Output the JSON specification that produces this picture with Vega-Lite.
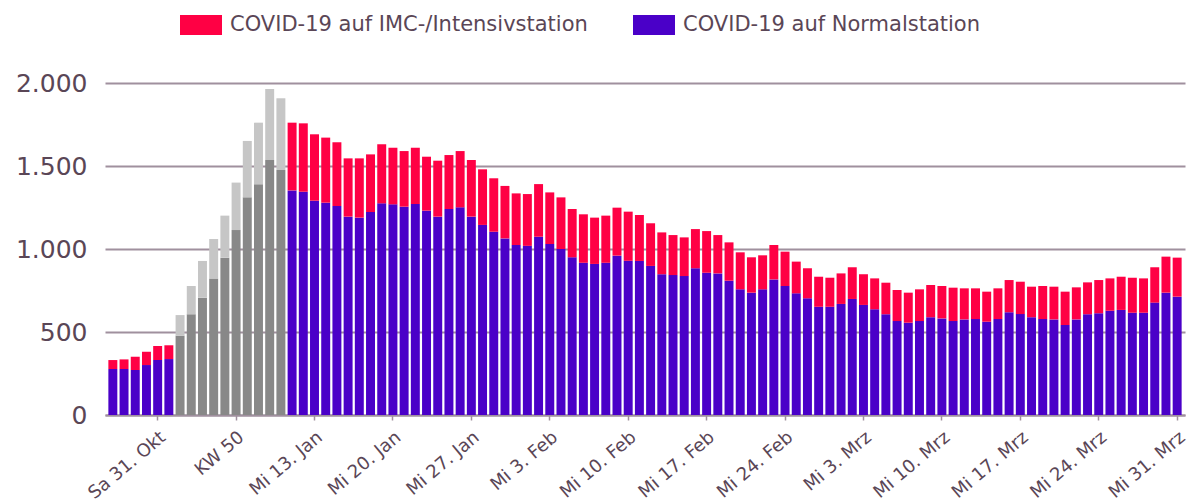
{
  "$schema": "https://vega.github.io/schema/vega-lite/v6.json",
  "width": 1080,
  "height": 332,
  "autosize": {"type": "none"},
  "padding": {"left": 105, "top": 83, "right": 3, "bottom": 89},
  "background": "white",
  "config": {"view": {"stroke": null}, "font": "DejaVu Sans"},
  "data": {"values": [
    {"t": "Di 27. Okt", "COVID-19 auf Normalstation": 277, "COVID-19 auf IMC-/Intensivstation": 54},
    {"t": "Mi 28. Okt", "COVID-19 auf Normalstation": 277, "COVID-19 auf IMC-/Intensivstation": 58},
    {"t": "Do 29. Okt", "COVID-19 auf Normalstation": 271, "COVID-19 auf IMC-/Intensivstation": 80},
    {"t": "Fr 30. Okt", "COVID-19 auf Normalstation": 301, "COVID-19 auf IMC-/Intensivstation": 80},
    {"t": "Sa 31. Okt", "COVID-19 auf Normalstation": 331, "COVID-19 auf IMC-/Intensivstation": 85},
    {"t": "So 1. Nov", "COVID-19 auf Normalstation": 337, "COVID-19 auf IMC-/Intensivstation": 83},
    {"t": "KW 45", "Normalstation (KW)": 478, "IMC-/Intensivstation (KW)": 124},
    {"t": "KW 46", "Normalstation (KW)": 607, "IMC-/Intensivstation (KW)": 170},
    {"t": "KW 47", "Normalstation (KW)": 707, "IMC-/Intensivstation (KW)": 221},
    {"t": "KW 48", "Normalstation (KW)": 823, "IMC-/Intensivstation (KW)": 237},
    {"t": "KW 49", "Normalstation (KW)": 948, "IMC-/Intensivstation (KW)": 253},
    {"t": "KW 50", "Normalstation (KW)": 1114, "IMC-/Intensivstation (KW)": 286},
    {"t": "KW 51", "Normalstation (KW)": 1311, "IMC-/Intensivstation (KW)": 340},
    {"t": "KW 52", "Normalstation (KW)": 1390, "IMC-/Intensivstation (KW)": 371},
    {"t": "KW 53", "Normalstation (KW)": 1536, "IMC-/Intensivstation (KW)": 428},
    {"t": "KW 1", "Normalstation (KW)": 1476, "IMC-/Intensivstation (KW)": 432},
    {"t": "Mo 11. Jan", "COVID-19 auf Normalstation": 1353, "COVID-19 auf IMC-/Intensivstation": 408},
    {"t": "Di 12. Jan", "COVID-19 auf Normalstation": 1345, "COVID-19 auf IMC-/Intensivstation": 412},
    {"t": "Mi 13. Jan", "COVID-19 auf Normalstation": 1291, "COVID-19 auf IMC-/Intensivstation": 400},
    {"t": "Do 14. Jan", "COVID-19 auf Normalstation": 1279, "COVID-19 auf IMC-/Intensivstation": 392},
    {"t": "Fr 15. Jan", "COVID-19 auf Normalstation": 1259, "COVID-19 auf IMC-/Intensivstation": 384},
    {"t": "Sa 16. Jan", "COVID-19 auf Normalstation": 1195, "COVID-19 auf IMC-/Intensivstation": 351},
    {"t": "So 17. Jan", "COVID-19 auf Normalstation": 1189, "COVID-19 auf IMC-/Intensivstation": 357},
    {"t": "Mo 18. Jan", "COVID-19 auf Normalstation": 1223, "COVID-19 auf IMC-/Intensivstation": 347},
    {"t": "Di 19. Jan", "COVID-19 auf Normalstation": 1275, "COVID-19 auf IMC-/Intensivstation": 356},
    {"t": "Mi 20. Jan", "COVID-19 auf Normalstation": 1269, "COVID-19 auf IMC-/Intensivstation": 341},
    {"t": "Do 21. Jan", "COVID-19 auf Normalstation": 1255, "COVID-19 auf IMC-/Intensivstation": 335},
    {"t": "Fr 22. Jan", "COVID-19 auf Normalstation": 1271, "COVID-19 auf IMC-/Intensivstation": 339},
    {"t": "Sa 23. Jan", "COVID-19 auf Normalstation": 1231, "COVID-19 auf IMC-/Intensivstation": 325},
    {"t": "So 24. Jan", "COVID-19 auf Normalstation": 1195, "COVID-19 auf IMC-/Intensivstation": 337},
    {"t": "Mo 25. Jan", "COVID-19 auf Normalstation": 1241, "COVID-19 auf IMC-/Intensivstation": 325},
    {"t": "Di 26. Jan", "COVID-19 auf Normalstation": 1251, "COVID-19 auf IMC-/Intensivstation": 339},
    {"t": "Mi 27. Jan", "COVID-19 auf Normalstation": 1195, "COVID-19 auf IMC-/Intensivstation": 341},
    {"t": "Do 28. Jan", "COVID-19 auf Normalstation": 1145, "COVID-19 auf IMC-/Intensivstation": 335},
    {"t": "Fr 29. Jan", "COVID-19 auf Normalstation": 1104, "COVID-19 auf IMC-/Intensivstation": 322},
    {"t": "Sa 30. Jan", "COVID-19 auf Normalstation": 1064, "COVID-19 auf IMC-/Intensivstation": 316},
    {"t": "So 31. Jan", "COVID-19 auf Normalstation": 1024, "COVID-19 auf IMC-/Intensivstation": 311},
    {"t": "Mo 1. Feb", "COVID-19 auf Normalstation": 1019, "COVID-19 auf IMC-/Intensivstation": 312},
    {"t": "Di 2. Feb", "COVID-19 auf Normalstation": 1074, "COVID-19 auf IMC-/Intensivstation": 317},
    {"t": "Mi 3. Feb", "COVID-19 auf Normalstation": 1030, "COVID-19 auf IMC-/Intensivstation": 311},
    {"t": "Do 4. Feb", "COVID-19 auf Normalstation": 1000, "COVID-19 auf IMC-/Intensivstation": 311},
    {"t": "Fr 5. Feb", "COVID-19 auf Normalstation": 950, "COVID-19 auf IMC-/Intensivstation": 291},
    {"t": "Sa 6. Feb", "COVID-19 auf Normalstation": 917, "COVID-19 auf IMC-/Intensivstation": 292},
    {"t": "So 7. Feb", "COVID-19 auf Normalstation": 910, "COVID-19 auf IMC-/Intensivstation": 279},
    {"t": "Mo 8. Feb", "COVID-19 auf Normalstation": 917, "COVID-19 auf IMC-/Intensivstation": 284},
    {"t": "Di 9. Feb", "COVID-19 auf Normalstation": 960, "COVID-19 auf IMC-/Intensivstation": 289},
    {"t": "Mi 10. Feb", "COVID-19 auf Normalstation": 929, "COVID-19 auf IMC-/Intensivstation": 296},
    {"t": "Do 11. Feb", "COVID-19 auf Normalstation": 928, "COVID-19 auf IMC-/Intensivstation": 277},
    {"t": "Fr 12. Feb", "COVID-19 auf Normalstation": 898, "COVID-19 auf IMC-/Intensivstation": 257},
    {"t": "Sa 13. Feb", "COVID-19 auf Normalstation": 848, "COVID-19 auf IMC-/Intensivstation": 252},
    {"t": "So 14. Feb", "COVID-19 auf Normalstation": 843, "COVID-19 auf IMC-/Intensivstation": 241},
    {"t": "Mo 15. Feb", "COVID-19 auf Normalstation": 837, "COVID-19 auf IMC-/Intensivstation": 233},
    {"t": "Di 16. Feb", "COVID-19 auf Normalstation": 884, "COVID-19 auf IMC-/Intensivstation": 236},
    {"t": "Mi 17. Feb", "COVID-19 auf Normalstation": 857, "COVID-19 auf IMC-/Intensivstation": 251},
    {"t": "Do 18. Feb", "COVID-19 auf Normalstation": 853, "COVID-19 auf IMC-/Intensivstation": 231},
    {"t": "Fr 19. Feb", "COVID-19 auf Normalstation": 809, "COVID-19 auf IMC-/Intensivstation": 231},
    {"t": "Sa 20. Feb", "COVID-19 auf Normalstation": 757, "COVID-19 auf IMC-/Intensivstation": 223},
    {"t": "So 21. Feb", "COVID-19 auf Normalstation": 737, "COVID-19 auf IMC-/Intensivstation": 213},
    {"t": "Mo 22. Feb", "COVID-19 auf Normalstation": 757, "COVID-19 auf IMC-/Intensivstation": 205},
    {"t": "Di 23. Feb", "COVID-19 auf Normalstation": 817, "COVID-19 auf IMC-/Intensivstation": 207},
    {"t": "Mi 24. Feb", "COVID-19 auf Normalstation": 777, "COVID-19 auf IMC-/Intensivstation": 207},
    {"t": "Do 25. Feb", "COVID-19 auf Normalstation": 733, "COVID-19 auf IMC-/Intensivstation": 191},
    {"t": "Fr 26. Feb", "COVID-19 auf Normalstation": 703, "COVID-19 auf IMC-/Intensivstation": 181},
    {"t": "Sa 27. Feb", "COVID-19 auf Normalstation": 652, "COVID-19 auf IMC-/Intensivstation": 181},
    {"t": "So 28. Feb", "COVID-19 auf Normalstation": 652, "COVID-19 auf IMC-/Intensivstation": 175},
    {"t": "Mo 1. Mrz", "COVID-19 auf Normalstation": 669, "COVID-19 auf IMC-/Intensivstation": 184},
    {"t": "Di 2. Mrz", "COVID-19 auf Normalstation": 699, "COVID-19 auf IMC-/Intensivstation": 191},
    {"t": "Mi 3. Mrz", "COVID-19 auf Normalstation": 663, "COVID-19 auf IMC-/Intensivstation": 185},
    {"t": "Do 4. Mrz", "COVID-19 auf Normalstation": 637, "COVID-19 auf IMC-/Intensivstation": 186},
    {"t": "Fr 5. Mrz", "COVID-19 auf Normalstation": 607, "COVID-19 auf IMC-/Intensivstation": 190},
    {"t": "Sa 6. Mrz", "COVID-19 auf Normalstation": 566, "COVID-19 auf IMC-/Intensivstation": 187},
    {"t": "So 7. Mrz", "COVID-19 auf Normalstation": 556, "COVID-19 auf IMC-/Intensivstation": 181},
    {"t": "Mo 8. Mrz", "COVID-19 auf Normalstation": 566, "COVID-19 auf IMC-/Intensivstation": 191},
    {"t": "Di 9. Mrz", "COVID-19 auf Normalstation": 589, "COVID-19 auf IMC-/Intensivstation": 194},
    {"t": "Mi 10. Mrz", "COVID-19 auf Normalstation": 582, "COVID-19 auf IMC-/Intensivstation": 195},
    {"t": "Do 11. Mrz", "COVID-19 auf Normalstation": 566, "COVID-19 auf IMC-/Intensivstation": 201},
    {"t": "Fr 12. Mrz", "COVID-19 auf Normalstation": 576, "COVID-19 auf IMC-/Intensivstation": 187},
    {"t": "Sa 13. Mrz", "COVID-19 auf Normalstation": 578, "COVID-19 auf IMC-/Intensivstation": 185},
    {"t": "So 14. Mrz", "COVID-19 auf Normalstation": 562, "COVID-19 auf IMC-/Intensivstation": 181},
    {"t": "Mo 15. Mrz", "COVID-19 auf Normalstation": 578, "COVID-19 auf IMC-/Intensivstation": 185},
    {"t": "Di 16. Mrz", "COVID-19 auf Normalstation": 619, "COVID-19 auf IMC-/Intensivstation": 194},
    {"t": "Mi 17. Mrz", "COVID-19 auf Normalstation": 608, "COVID-19 auf IMC-/Intensivstation": 195},
    {"t": "Do 18. Mrz", "COVID-19 auf Normalstation": 589, "COVID-19 auf IMC-/Intensivstation": 184},
    {"t": "Fr 19. Mrz", "COVID-19 auf Normalstation": 578, "COVID-19 auf IMC-/Intensivstation": 199},
    {"t": "Sa 20. Mrz", "COVID-19 auf Normalstation": 576, "COVID-19 auf IMC-/Intensivstation": 197},
    {"t": "So 21. Mrz", "COVID-19 auf Normalstation": 542, "COVID-19 auf IMC-/Intensivstation": 201},
    {"t": "Mo 22. Mrz", "COVID-19 auf Normalstation": 576, "COVID-19 auf IMC-/Intensivstation": 193},
    {"t": "Di 23. Mrz", "COVID-19 auf Normalstation": 607, "COVID-19 auf IMC-/Intensivstation": 192},
    {"t": "Mi 24. Mrz", "COVID-19 auf Normalstation": 613, "COVID-19 auf IMC-/Intensivstation": 200},
    {"t": "Do 25. Mrz", "COVID-19 auf Normalstation": 628, "COVID-19 auf IMC-/Intensivstation": 195},
    {"t": "Fr 26. Mrz", "COVID-19 auf Normalstation": 633, "COVID-19 auf IMC-/Intensivstation": 200},
    {"t": "Sa 27. Mrz", "COVID-19 auf Normalstation": 616, "COVID-19 auf IMC-/Intensivstation": 211},
    {"t": "So 28. Mrz", "COVID-19 auf Normalstation": 616, "COVID-19 auf IMC-/Intensivstation": 207},
    {"t": "Mo 29. Mrz", "COVID-19 auf Normalstation": 677, "COVID-19 auf IMC-/Intensivstation": 213},
    {"t": "Di 30. Mrz", "COVID-19 auf Normalstation": 737, "COVID-19 auf IMC-/Intensivstation": 217},
    {"t": "Mi 31. Mrz", "COVID-19 auf Normalstation": 713, "COVID-19 auf IMC-/Intensivstation": 235}
  ]},
  "transform": [
    {"fold": ["COVID-19 auf Normalstation", "COVID-19 auf IMC-/Intensivstation", "Normalstation (KW)", "IMC-/Intensivstation (KW)"], "as": ["s", "v"]},
    {"filter": "isValid(datum.v)"}
  ],
  "mark": {"type": "bar"},
  "encoding": {
    "x": {
      "field": "t", "type": "ordinal", "sort": null,
      "scale": {"paddingInner": 0.2, "paddingOuter": 0.3},
      "axis": {
        "title": null,
        "values": ["Sa 31. Okt", "KW 50", "Mi 13. Jan", "Mi 20. Jan", "Mi 27. Jan", "Mi 3. Feb", "Mi 10. Feb", "Mi 17. Feb", "Mi 24. Feb", "Mi 3. Mrz", "Mi 10. Mrz", "Mi 17. Mrz", "Mi 24. Mrz", "Mi 31. Mrz"],
        "labelAngle": -40, "labelAlign": "right", "labelBaseline": "top",
        "labelFontSize": 18, "labelColor": "#5a4656", "labelPadding": 8,
        "labelLimit": 0, "labelOverlap": false,
        "domain": true, "domainColor": "#a0909e", "domainWidth": 2,
        "ticks": true, "tickColor": "#a0909e", "tickSize": 5, "tickWidth": 1.5,
        "grid": false
      }
    },
    "y": {
      "field": "v", "type": "quantitative", "stack": "zero",
      "scale": {"domain": [0, 2000], "nice": false},
      "axis": {
        "title": null, "values": [0, 500, 1000, 1500, 2000],
        "labelExpr": "replace(format(datum.value, ',d'), ',', '.')",
        "labelFontSize": 25, "labelColor": "#5a4656", "labelPadding": 18,
        "domain": false, "ticks": false,
        "grid": true, "gridColor": "#a0909e", "gridWidth": 2
      }
    },
    "color": {
      "field": "s", "type": "nominal",
      "scale": {
        "domain": ["COVID-19 auf IMC-/Intensivstation", "COVID-19 auf Normalstation", "IMC-/Intensivstation (KW)", "Normalstation (KW)"],
        "range": ["#ff0044", "#4a00c8", "#c6c6c6", "#888888"]
      },
      "legend": {
        "title": null,
        "values": ["COVID-19 auf IMC-/Intensivstation", "COVID-19 auf Normalstation"],
        "orient": "none", "legendX": 75, "legendY": -79, "direction": "horizontal",
        "symbolType": "M-1,-0.476H1V0.476H-1Z", "symbolSize": 1764, "symbolStrokeWidth": 0, "symbolOpacity": 1,
        "labelFontSize": 21, "labelColor": "#5a4656", "labelOffset": 8, "labelLimit": 0, "columnPadding": 45
      }
    },
    "order": {"field": "s", "sort": "descending"}
  }
}
